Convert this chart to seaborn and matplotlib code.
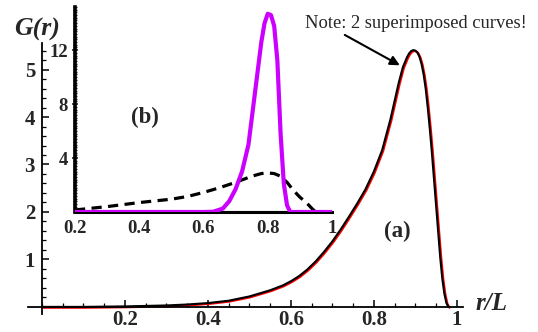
import numpy as np
import pandas as pd
import matplotlib
matplotlib.use("Agg")
import matplotlib.pyplot as plt
import matplotlib.transforms as mtransforms
from matplotlib.ticker import MultipleLocator, FixedLocator
import seaborn as sns

# ---------------- data ----------------
# main panel (a): G(r) vs r/L
main_r = [0.00, 0.10, 0.20, 0.25, 0.30, 0.35, 0.40, 0.45, 0.50, 0.55, 0.58, 0.60,
          0.62, 0.64, 0.66, 0.68, 0.70, 0.72, 0.74, 0.76, 0.78, 0.80, 0.82, 0.84,
          0.86, 0.87, 0.88, 0.885, 0.89, 0.895, 0.90, 0.905, 0.91, 0.915, 0.92,
          0.925, 0.93, 0.935, 0.94, 0.945, 0.95, 0.955, 0.96, 0.965, 0.97,
          0.975, 0.98]
main_g = [0.00, 0.00, 0.01, 0.02, 0.03, 0.05, 0.08, 0.13, 0.22, 0.35, 0.45, 0.54,
          0.65, 0.79, 0.96, 1.16, 1.38, 1.63, 1.90, 2.18, 2.48, 2.85, 3.30, 3.95,
          4.72, 5.05, 5.26, 5.34, 5.39, 5.41, 5.40, 5.36, 5.27, 5.12, 4.90,
          4.60, 4.20, 3.75, 3.25, 2.70, 2.15, 1.60, 1.05, 0.60, 0.28,
          0.08, 0.00]

# inset (b)
mag_r = [0.20, 0.60, 0.63, 0.66, 0.68, 0.70, 0.72, 0.74, 0.76, 0.78, 0.79, 0.80,
         0.81, 0.82, 0.83, 0.84, 0.85, 0.86, 0.87, 1.00]
mag_g = [0.0, 0.0, 0.02, 0.25, 0.8, 1.7, 3.0, 5.0, 8.8, 12.6, 14.0, 14.7,
         14.6, 13.8, 11.2, 5.8, 2.1, 0.5, 0.0, 0.0]

dash_r = [0.20, 0.30, 0.40, 0.50, 0.55, 0.60, 0.65, 0.70, 0.75, 0.78, 0.80, 0.82,
          0.84, 0.86, 0.88, 0.90, 0.92, 0.94, 0.95]
dash_g = [0.15, 0.40, 0.70, 0.95, 1.15, 1.45, 1.80, 2.20, 2.65, 2.85, 2.90, 2.85,
          2.65, 2.20, 1.60, 1.10, 0.70, 0.20, 0.00]

solid_r = [0.20, 0.95]
solid_g = [0.0, 0.0]

main_xticks = [0.2, 0.4, 0.6, 0.8, 1.0]
main_xticklabels = ["0.2", "0.4", "0.6", "0.8", "1"]
main_yticks = [1, 2, 3, 4, 5]
inset_xticks = [0.2, 0.4, 0.6, 0.8, 1.0]
inset_xticklabels = ["0.2", "0.4", "0.6", "0.8", "1"]
inset_yticks = [4, 8, 12]

# ---------------- style ----------------
sns.set_theme(style="white")
plt.rcParams["font.family"] = ["Liberation Serif", "DejaVu Serif"]

W, H = 538, 332
DPI = 100
fig = plt.figure(figsize=(W / DPI, H / DPI), dpi=DPI)

def fr(x0, y0, x1, y1):
    # pixel box (left, top, right, bottom) -> figure fraction rect
    return [x0 / W, 1 - y1 / H, (x1 - x0) / W, (y1 - y0) / H]

# ---------------- main axes ----------------
ax = fig.add_axes(fr(27.5, 43, 463, 314))
ax.set_facecolor("none")
df_main = pd.DataFrame({"r": main_r, "G": main_g})

off = mtransforms.ScaledTranslation(1.0 / DPI, -0.8 / DPI, fig.dpi_scale_trans)
sns.lineplot(data=df_main, x="r", y="G", ax=ax, color="#ff0000", lw=1.6,
             estimator=None, sort=False)
ax.lines[-1].set_transform(ax.transData + off)
sns.lineplot(data=df_main, x="r", y="G", ax=ax, color="black", lw=1.5,
             estimator=None, sort=False)
for ln in ax.lines:
    ln.set_solid_joinstyle("round")

ax.set_xlim(-0.035, 1.015)
ax.set_ylim(-0.15, 5.56)
for s in ["top", "right"]:
    ax.spines[s].set_visible(False)
ax.spines["left"].set_position(("data", 0))
ax.spines["bottom"].set_position(("data", 0))
for s in ["left", "bottom"]:
    ax.spines[s].set_color("black")
    ax.spines[s].set_linewidth(1.3)

ax.xaxis.set_major_locator(FixedLocator(main_xticks))
ax.set_xticklabels(main_xticklabels)
ax.xaxis.set_minor_locator(MultipleLocator(0.05))
ax.yaxis.set_major_locator(FixedLocator(main_yticks))
ax.yaxis.set_minor_locator(MultipleLocator(0.2))
ax.tick_params(axis="both", which="major", direction="in", length=5, width=1.1,
               color="black", labelsize=15, pad=5)
ax.tick_params(axis="both", which="minor", direction="in", length=3, width=0.9,
               color="black")
ax.tick_params(axis="x", which="major", pad=2)
ax.tick_params(left=True, bottom=True, which="both")
for lab in ax.get_xticklabels() + ax.get_yticklabels():
    lab.set_fontweight("bold")
ax.set_xlabel("")
ax.set_ylabel("")

# axis labels
fig.text(37 / W, 1 - 29 / H, "G(r)", ha="center", va="center", fontsize=18.5,
         fontweight="bold", fontstyle="italic")
fig.text(491 / W, 1 - 304 / H, "r/L", ha="center", va="center", fontsize=18,
         fontweight="bold", fontstyle="italic")
fig.text(397 / W, 1 - 231 / H, "(a)", ha="center", va="center", fontsize=16.5,
         fontweight="bold")

# annotation
ax.annotate("", xy=(0.8627, 5.09), xytext=(0.730, 5.73), xycoords="data",
            textcoords="data", annotation_clip=False,
            arrowprops=dict(arrowstyle="-|>", color="black", lw=1.5,
                            mutation_scale=14, shrinkA=0, shrinkB=0))
fig.text(416 / W, 1 - 23 / H, "Note: 2 superimposed curves!", ha="center",
         va="center", fontsize=13.3)

# ---------------- inset ----------------
ins = fig.add_axes(fr(75, 7, 332, 212))
ins.set_facecolor("none")
sns.lineplot(x=solid_r, y=solid_g, ax=ins, color="black", lw=2.2,
             estimator=None, sort=False)
sns.lineplot(x=dash_r, y=dash_g, ax=ins, color="black", lw=2.3,
             estimator=None, sort=False)
ins.lines[-1].set_dashes([3.2, 2.0])
sns.lineplot(x=mag_r, y=mag_g, ax=ins, color="#cc00ff", lw=3.0,
             estimator=None, sort=False, zorder=4)
for ln in ins.lines:
    ln.set_solid_joinstyle("round")

ins.set_xlim(0.2, 1.0)
ins.set_ylim(0, 15.2)
for s in ["top", "right"]:
    ins.spines[s].set_visible(False)
ins.spines["left"].set_linewidth(2.6)
ins.spines["left"].set_color("black")
ins.spines["bottom"].set_linewidth(2.2)
ins.spines["bottom"].set_color("black")
ins.xaxis.set_major_locator(FixedLocator(inset_xticks))
ins.set_xticklabels(inset_xticklabels)
ins.yaxis.set_major_locator(FixedLocator(inset_yticks))
ins.yaxis.set_minor_locator(MultipleLocator(0.2))
ins.tick_params(axis="x", which="both", length=0, labelsize=13.5, pad=6)
ins.tick_params(axis="y", which="major", direction="inout", length=4, width=1.2,
                labelsize=13.5, pad=3, left=True)
ins.tick_params(axis="y", which="minor", direction="inout", length=3.5,
                width=1.0, left=True)
for lab in ins.get_xticklabels() + ins.get_yticklabels():
    lab.set_fontweight("bold")
ins.set_xlabel("")
ins.set_ylabel("")
fig.text(145 / W, 1 - 117 / H, "(b)", ha="center", va="center", fontsize=16.5,
         fontweight="bold")

fig.savefig("out.png", dpi=DPI)
